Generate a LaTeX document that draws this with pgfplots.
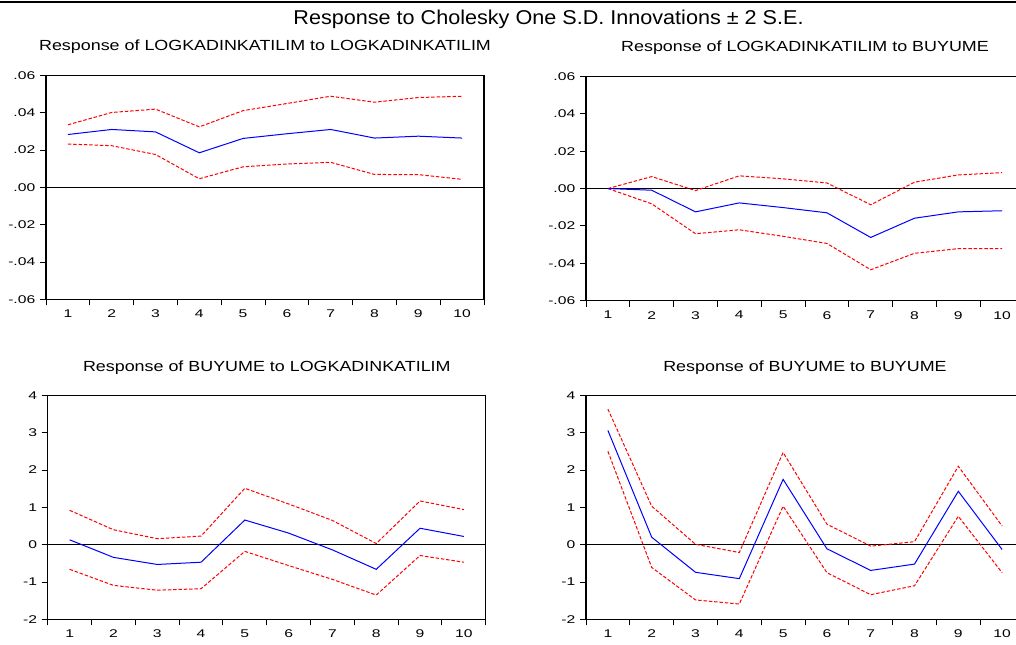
\documentclass[border=0pt]{standalone}
\usepackage{pgfplots}
\pgfplotsset{compat=1.18}
\usepackage{pgfplotstable}
\usepackage{fontspec}
\setmainfont{Liberation Sans}
\newfontfamily\tickff[FakeStretch=1.4]{Liberation Sans}
\newfontfamily\titleff[FakeStretch=1.22]{Liberation Sans}
\newfontfamily\mainff[FakeStretch=1.08]{Liberation Sans}
\definecolor{irfblue}{RGB}{0,0,255}
\definecolor{irfred}{RGB}{255,0,0}

\pgfplotstableread{
h est up lo
1 0.0283 0.0335 0.0232
2 0.0310 0.0401 0.0223
3 0.0297 0.0419 0.0176
4 0.0185 0.0324 0.0046
5 0.0262 0.0411 0.0110
6 0.0287 0.0449 0.0125
7 0.0310 0.0488 0.0134
8 0.0264 0.0456 0.0069
9 0.0274 0.0481 0.0068
10 0.0264 0.0488 0.0043
}\tabTL
\pgfplotstableread{
h est up lo
1 0.0000 0.0000 0.0000
2 -0.0009 0.0064 -0.0082
3 -0.0125 -0.0011 -0.0242
4 -0.0077 0.0068 -0.0221
5 -0.0102 0.0052 -0.0256
6 -0.0130 0.0030 -0.0294
7 -0.0262 -0.0087 -0.0435
8 -0.0159 0.0034 -0.0347
9 -0.0125 0.0073 -0.0322
10 -0.0119 0.0085 -0.0322
}\tabTR
\pgfplotstableread{
h est up lo
1 0.13 0.92 -0.66
2 -0.34 0.40 -1.09
3 -0.53 0.16 -1.22
4 -0.47 0.23 -1.18
5 0.66 1.51 -0.18
6 0.31 1.09 -0.56
7 -0.14 0.65 -0.93
8 -0.66 0.03 -1.35
9 0.44 1.17 -0.29
10 0.22 0.94 -0.47
}\tabBL
\pgfplotstableread{
h est up lo
1 3.06 3.63 2.50
2 0.20 1.03 -0.61
3 -0.74 0.01 -1.48
4 -0.91 -0.21 -1.59
5 1.75 2.47 1.03
6 -0.11 0.55 -0.75
7 -0.69 -0.04 -1.34
8 -0.52 0.08 -1.10
9 1.43 2.10 0.76
10 -0.13 0.50 -0.75
}\tabBR

\pgfplotsset{
  irf/.style={
    scale only axis, width=328.5pt, height=168pt, anchor=south west,
    xmin=0.5, xmax=10.5,
    xtick={0.5,1.5,2.5,3.5,4.5,5.5,6.5,7.5,8.5,9.5,10.5},
    x tick label as interval,
    xticklabels={1,2,3,4,5,6,7,8,9,10},
    scaled y ticks=false,
    major tick length=4.5pt,
    tick align=outside, xtick pos=bottom, ytick pos=left,
    tick style={black, line width=0.7pt},
    axis line style={black, line width=1pt},
    tick label style={font={\tickff\fontsize{8.4}{10}\selectfont}},
    /pgf/number format/assume math mode=true,
  },
  smallax/.style={irf, ymin=-0.06, ymax=0.06,
    ytick={-0.06,-0.04,-0.02,0,0.02,0.04,0.06},
    yticklabels={-.06,-.04,-.02,.00,.02,.04,.06}},
  bigax/.style={irf, ymin=-2, ymax=4,
    ytick={-2,-1,0,1,2,3,4},
    yticklabels={-2,-1,0,1,2,3,4}},
  est/.style={irfblue, line width=0.75pt, mark=none},
  band/.style={irfred, line width=0.75pt, dash pattern=on 2.6pt off 1.4pt, mark=none},
  zero/.style={black, line width=0.75pt, mark=none},
}

\begin{document}
\begin{tikzpicture}
\useasboundingbox (0,0) rectangle (762pt,483pt);
\clip (0,0) rectangle (762pt,483pt);
\draw[black, line width=1.6pt] (0,481.2pt) -- (762pt,481.2pt);
\node[anchor=base, font={\mainff\fontsize{15}{18}\selectfont}] at (411.4pt,464.3pt)
  {Response to Cholesky One S.D. Innovations ± 2 S.E.};
\node[anchor=base, font={\titleff\fontsize{11}{13}\selectfont}] at (198.75pt,444.75pt)
  {Response of LOGKADINKATILIM to LOGKADINKATILIM};
\node[anchor=base, font={\titleff\fontsize{11}{13}\selectfont}] at (603.75pt,444.4pt)
  {Response of LOGKADINKATILIM to BUYUME};
\node[anchor=base, font={\titleff\fontsize{11}{13}\selectfont}] at (200.1pt,204.75pt)
  {Response of BUYUME to LOGKADINKATILIM};
\node[anchor=base, font={\titleff\fontsize{11}{13}\selectfont}] at (603.75pt,204.75pt)
  {Response of BUYUME to BUYUME};

\begin{axis}[smallax, at={(34.5pt,258.5pt)}]
\addplot[zero] coordinates {(0.5,0) (10.5,0)};
\addplot[band] table[x=h,y=up]{\tabTL};
\addplot[band] table[x=h,y=lo]{\tabTL};
\addplot[est] table[x=h,y=est]{\tabTL};
\end{axis}

\begin{axis}[smallax, at={(439.5pt,257.6pt)}]
\addplot[zero] coordinates {(0.5,0) (10.5,0)};
\addplot[band] table[x=h,y=up]{\tabTR};
\addplot[band] table[x=h,y=lo]{\tabTR};
\addplot[est] table[x=h,y=est]{\tabTR};
\end{axis}

\begin{axis}[bigax, at={(35.8pt,18.5pt)}]
\addplot[zero] coordinates {(0.5,0) (10.5,0)};
\addplot[band] table[x=h,y=up]{\tabBL};
\addplot[band] table[x=h,y=lo]{\tabBL};
\addplot[est] table[x=h,y=est]{\tabBL};
\end{axis}

\begin{axis}[bigax, at={(439.5pt,18.5pt)}]
\addplot[zero] coordinates {(0.5,0) (10.5,0)};
\addplot[band] table[x=h,y=up]{\tabBR};
\addplot[band] table[x=h,y=lo]{\tabBR};
\addplot[est] table[x=h,y=est]{\tabBR};
\end{axis}
\end{tikzpicture}
\end{document}
